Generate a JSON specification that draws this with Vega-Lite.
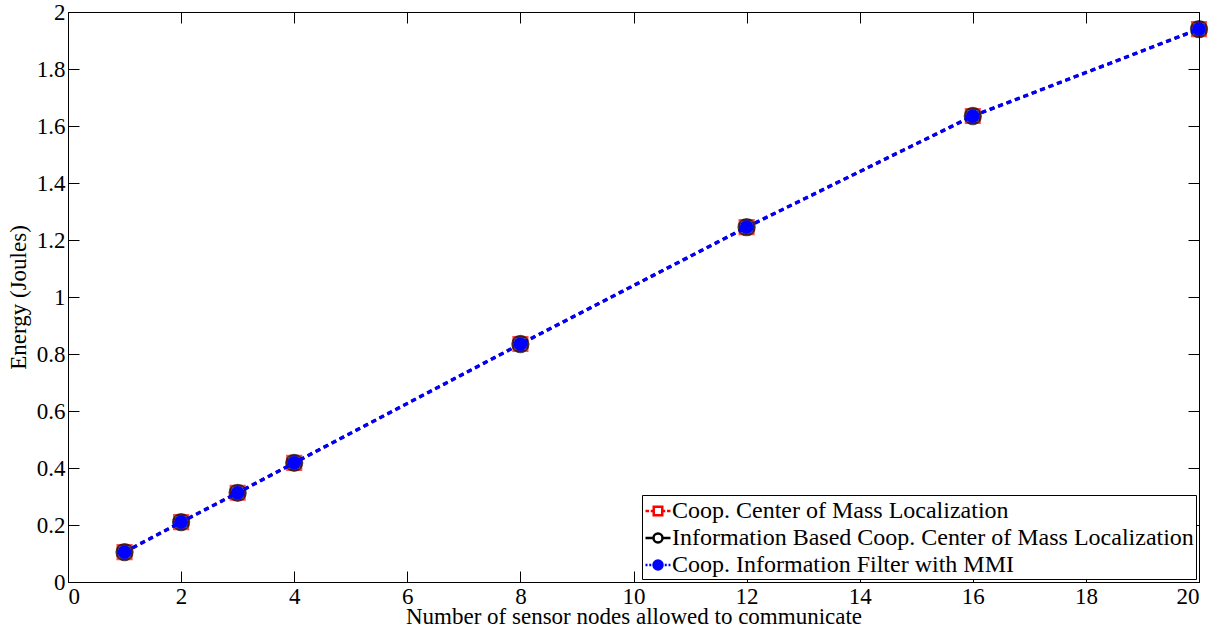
{
  "$schema": "https://vega.github.io/schema/vega-lite/v6.json",
  "width": 1131,
  "height": 570,
  "autosize": {"type": "none"},
  "padding": {"left": 68, "top": 12, "right": 29, "bottom": 47},
  "background": "white",
  "config": {
    "view": {"stroke": "black", "strokeWidth": 1},
    "font": "Liberation Serif",
    "axis": {
      "grid": false,
      "domainColor": "black",
      "tickColor": "black",
      "tickSize": -11,
      "labelFont": "Liberation Serif",
      "labelFontSize": 23,
      "labelColor": "black",
      "titleFont": "Liberation Serif",
      "titleFontSize": 23,
      "titleFontWeight": "normal",
      "titleColor": "black"
    },
    "legend": {
      "labelFont": "Liberation Serif",
      "labelFontSize": 24,
      "labelColor": "black",
      "labelLimit": 0
    }
  },
  "data": {
    "values": [
      {"series": "Coop. Center of Mass Localization", "n": 1, "energy": 0.105},
      {"series": "Coop. Center of Mass Localization", "n": 2, "energy": 0.21},
      {"series": "Coop. Center of Mass Localization", "n": 3, "energy": 0.313},
      {"series": "Coop. Center of Mass Localization", "n": 4, "energy": 0.418},
      {"series": "Coop. Center of Mass Localization", "n": 8, "energy": 0.835},
      {"series": "Coop. Center of Mass Localization", "n": 12, "energy": 1.245},
      {"series": "Coop. Center of Mass Localization", "n": 16, "energy": 1.635},
      {"series": "Coop. Center of Mass Localization", "n": 20, "energy": 1.94},
      {"series": "Information Based Coop. Center of Mass Localization", "n": 1, "energy": 0.105},
      {"series": "Information Based Coop. Center of Mass Localization", "n": 2, "energy": 0.21},
      {"series": "Information Based Coop. Center of Mass Localization", "n": 3, "energy": 0.313},
      {"series": "Information Based Coop. Center of Mass Localization", "n": 4, "energy": 0.418},
      {"series": "Information Based Coop. Center of Mass Localization", "n": 8, "energy": 0.835},
      {"series": "Information Based Coop. Center of Mass Localization", "n": 12, "energy": 1.245},
      {"series": "Information Based Coop. Center of Mass Localization", "n": 16, "energy": 1.635},
      {"series": "Information Based Coop. Center of Mass Localization", "n": 20, "energy": 1.94},
      {"series": "Coop. Information Filter with MMI", "n": 1, "energy": 0.105},
      {"series": "Coop. Information Filter with MMI", "n": 2, "energy": 0.21},
      {"series": "Coop. Information Filter with MMI", "n": 3, "energy": 0.313},
      {"series": "Coop. Information Filter with MMI", "n": 4, "energy": 0.418},
      {"series": "Coop. Information Filter with MMI", "n": 8, "energy": 0.835},
      {"series": "Coop. Information Filter with MMI", "n": 12, "energy": 1.245},
      {"series": "Coop. Information Filter with MMI", "n": 16, "energy": 1.635},
      {"series": "Coop. Information Filter with MMI", "n": 20, "energy": 1.94}
    ]
  },
  "resolve": {"axis": {"x": "independent", "y": "independent"}},
  "layer": [
    {
      "layer": [
        {
          "transform": [{"filter": "datum.series === 'Coop. Center of Mass Localization'"}],
          "mark": {"type": "line", "color": "red", "strokeWidth": 2.5, "strokeDash": [5, 4]},
          "encoding": {
            "x": {"field": "n", "type": "quantitative"},
            "y": {"field": "energy", "type": "quantitative"}
          }
        },
        {
          "transform": [{"filter": "datum.series === 'Coop. Center of Mass Localization'"}],
          "mark": {"type": "point", "shape": "square", "filled": false, "color": "red", "strokeWidth": 2, "size": 200},
          "encoding": {
            "x": {"field": "n", "type": "quantitative"},
            "y": {"field": "energy", "type": "quantitative"}
          }
        },
        {
          "transform": [{"filter": "datum.series === 'Information Based Coop. Center of Mass Localization'"}],
          "mark": {"type": "line", "color": "black", "strokeWidth": 2.5, "strokeDash": [5, 4]},
          "encoding": {
            "x": {"field": "n", "type": "quantitative"},
            "y": {"field": "energy", "type": "quantitative"}
          }
        },
        {
          "transform": [{"filter": "datum.series === 'Information Based Coop. Center of Mass Localization'"}],
          "mark": {"type": "point", "shape": "circle", "filled": false, "color": "black", "strokeWidth": 2.5, "size": 250},
          "encoding": {
            "x": {"field": "n", "type": "quantitative"},
            "y": {"field": "energy", "type": "quantitative"}
          }
        },
        {
          "transform": [{"filter": "datum.series === 'Coop. Information Filter with MMI'"}],
          "mark": {"type": "line", "color": "blue", "strokeWidth": 3.5, "strokeDash": [5, 4]},
          "encoding": {
            "x": {"field": "n", "type": "quantitative"},
            "y": {"field": "energy", "type": "quantitative"}
          }
        },
        {
          "transform": [{"filter": "datum.series === 'Coop. Information Filter with MMI'"}],
          "mark": {"type": "point", "shape": "circle", "filled": true, "color": "blue", "opacity": 1, "size": 190},
          "encoding": {
            "x": {"field": "n", "type": "quantitative"},
            "y": {"field": "energy", "type": "quantitative"}
          }
        },
        {
          "mark": {"type": "point", "opacity": 0, "strokeWidth": 2.5},
          "encoding": {
            "x": {"field": "n", "type": "quantitative"},
            "y": {"field": "energy", "type": "quantitative"},
            "color": {
              "field": "series", "type": "nominal",
              "scale": {
                "domain": ["Coop. Center of Mass Localization", "Information Based Coop. Center of Mass Localization", "Coop. Information Filter with MMI"],
                "range": ["red", "black", "blue"]
              },
              "legend": {
                "title": null, "orient": "bottom-right", "offset": 3, "padding": 2,
                "strokeColor": "black", "fillColor": "white", "cornerRadius": 0,
                "rowPadding": 1, "labelOffset": 0, "symbolSize": 625, "symbolOpacity": 1,
                "symbolStrokeWidth": 2.5
              }
            },
            "fill": {
              "field": "series", "type": "nominal",
              "scale": {
                "domain": ["Coop. Center of Mass Localization", "Information Based Coop. Center of Mass Localization", "Coop. Information Filter with MMI"],
                "range": ["white", "white", "blue"]
              },
              "legend": {
                "title": null, "orient": "bottom-right", "offset": 3, "padding": 2,
                "strokeColor": "black", "fillColor": "white", "cornerRadius": 0,
                "rowPadding": 1, "labelOffset": 0, "symbolSize": 625, "symbolOpacity": 1,
                "symbolStrokeWidth": 2.5
              }
            },
            "shape": {
              "field": "series", "type": "nominal",
              "scale": {
                "domain": ["Coop. Center of Mass Localization", "Information Based Coop. Center of Mass Localization", "Coop. Information Filter with MMI"],
                "range": [
                  "M-1,0H-0.72M-0.58,0H-0.4M0.4,0H0.58M0.72,0H1M-0.34,-0.34H0.34V0.34H-0.34Z",
                  "M-1,0H-0.42M0.42,0H1M0.36,0A0.36,0.36 0 1,1 -0.36,0A0.36,0.36 0 1,1 0.36,0Z",
                  "M-1,0H-0.84M-0.7,0H-0.54M0.54,0H0.7M0.84,0H1M0.36,0A0.36,0.36 0 1,1 -0.36,0A0.36,0.36 0 1,1 0.36,0Z"
                ]
              },
              "legend": {
                "title": null, "orient": "bottom-right", "offset": 3, "padding": 2,
                "strokeColor": "black", "fillColor": "white", "cornerRadius": 0,
                "rowPadding": 1, "labelOffset": 0, "symbolSize": 625, "symbolOpacity": 1,
                "symbolStrokeWidth": 2.5
              }
            }
          }
        }
      ],
      "encoding": {
        "x": {
          "field": "n", "type": "quantitative",
          "scale": {"domain": [0, 20], "nice": false, "zero": false},
          "axis": {
            "orient": "bottom", "values": [0, 2, 4, 6, 8, 10, 12, 14, 16, 18, 20],
            "labelPadding": 14, "title": "Number of sensor nodes allowed to communicate",
            "titlePadding": -3
          }
        },
        "y": {
          "field": "energy", "type": "quantitative",
          "scale": {"domain": [0, 2], "nice": false, "zero": false},
          "axis": {
            "orient": "left", "values": [0, 0.2, 0.4, 0.6, 0.8, 1, 1.2, 1.4, 1.6, 1.8, 2],
            "format": "~g", "labelPadding": 14, "title": "Energy (Joules)", "titlePadding": 6
          }
        }
      }
    },
    {
      "mark": {"type": "point", "opacity": 0},
      "encoding": {
        "x": {
          "field": "n", "type": "quantitative",
          "axis": {"orient": "top", "values": [0, 2, 4, 6, 8, 10, 12, 14, 16, 18, 20], "labels": false, "title": null}
        },
        "y": {
          "field": "energy", "type": "quantitative",
          "axis": {"orient": "right", "values": [0, 0.2, 0.4, 0.6, 0.8, 1, 1.2, 1.4, 1.6, 1.8, 2], "labels": false, "title": null}
        }
      }
    }
  ]
}
